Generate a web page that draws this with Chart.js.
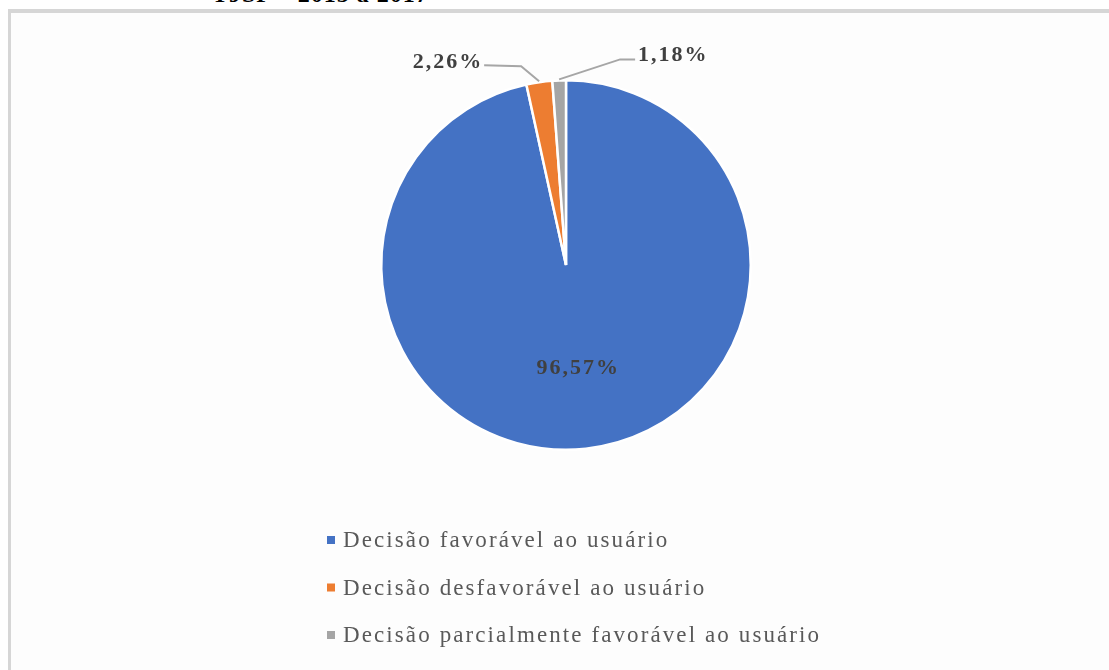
<!DOCTYPE html>
<html>
<head>
<meta charset="utf-8">
<script src="https://cdn.jsdelivr.net/npm/chart.js@4.4.0/dist/chart.umd.min.js"></script>
<style>
  html, body { margin: 0; padding: 0; background: #ffffff; width: 1109px; height: 670px; overflow: hidden; }
  #wrap { position: relative; width: 1109px; height: 670px; }
  #title { position: absolute; left: 212px; top: -19px; font: bold 24px "Liberation Serif", "Times New Roman", serif; color: #000; white-space: nowrap; letter-spacing: 1px; }
  #frame { position: absolute; left: 8px; top: 9px; width: 1200px; height: 800px; border-top: 4px solid #d6d6d6; border-left: 3px solid #d6d6d6; background: #fdfdfd; }
  canvas { position: absolute; left: 0; top: 0; }
</style>
</head>
<body>
<div id="wrap">
  <div id="title">TJSP – 2015 a 2017</div>
  <div id="frame"></div>
  <canvas id="c" width="1109" height="670"></canvas>
</div>
<script>
const categories = [
  "Decisão favorável ao usuário",
  "Decisão desfavorável ao usuário",
  "Decisão parcialmente favorável ao usuário"
];
const values = [96.57, 2.26, 1.18];
const valueLabels = ["96,57%", "2,26%", "1,18%"];
const colors = ["#4472C4", "#ED7D31", "#A5A5A5"];

const labelFont = 'bold 22px "Liberation Serif", "Times New Roman", serif';
const labelColor = '#404040';

const labelsPlugin = {
  id: 'pieLabels',
  afterDatasetsDraw(chart) {
    const ctx = chart.ctx;
    const meta = chart.getDatasetMeta(0);
    ctx.save();
    ctx.font = labelFont;
    ctx.fillStyle = labelColor;
    ctx.textBaseline = 'middle';
    try { ctx.letterSpacing = '2px'; } catch (e) {}
    meta.data.forEach((arc, i) => {
      const p = arc.getProps(['x', 'y', 'startAngle', 'endAngle', 'outerRadius'], true);
      const mid = (p.startAngle + p.endAngle) / 2;
      if (i === 0) {
        const r = p.outerRadius * 0.565;
        ctx.textAlign = 'center';
        ctx.fillText(valueLabels[i], p.x + Math.cos(mid) * r + 1, p.y + Math.sin(mid) * r);
      } else {
        const ax = p.x + Math.cos(mid) * (p.outerRadius + 1);
        const ay = p.y + Math.sin(mid) * (p.outerRadius + 1);
        let ex, ey, tx, side;
        if (i === 1) { ex = ax - 18; ey = ay - 15; tx = ex - 37; side = 'right'; }
        else { ex = ax + 61; ey = ay - 20; tx = ex + 15; side = 'left'; }
        ctx.strokeStyle = '#a6a6a6';
        ctx.lineWidth = 2;
        ctx.beginPath();
        ctx.moveTo(ax, ay);
        ctx.lineTo(ex, ey);
        ctx.lineTo(tx, ey - (i === 1 ? 1 : 0));
        ctx.stroke();
        ctx.textAlign = side;
        ctx.fillText(valueLabels[i], side === 'right' ? tx - 1 : tx + 3, ey - 4);
      }
    });
    ctx.restore();
  }
};

const legendPlugin = {
  id: 'vLegend',
  afterDraw(chart) {
    const ctx = chart.ctx;
    ctx.save();
    ctx.font = '23px "Liberation Serif", "Times New Roman", serif';
    ctx.textBaseline = 'middle';
    ctx.textAlign = 'left';
    try { ctx.letterSpacing = '2.1px'; } catch (e) {}
    const x0 = 327, y0 = 540, gap = 47.5;
    categories.forEach((c, i) => {
      const y = y0 + i * gap;
      ctx.fillStyle = colors[i];
      ctx.fillRect(x0, y - 4, 8, 8);
      ctx.fillStyle = '#595959';
      ctx.fillText(c, x0 + 16, y + 1);
    });
    ctx.restore();
  }
};

new Chart(document.getElementById('c'), {
  type: 'pie',
  data: {
    labels: categories,
    datasets: [{
      data: values,
      backgroundColor: colors,
      borderColor: '#ffffff',
      borderWidth: 2.5
    }]
  },
  options: {
    responsive: false,
    devicePixelRatio: 1,
    animation: false,
    layout: { padding: { left: 380, right: 357, top: 79, bottom: 219 } },
    plugins: {
      legend: { display: false },
      tooltip: { enabled: false },
      title: { display: false }
    }
  },
  plugins: [labelsPlugin, legendPlugin]
});
</script>
</body>
</html>
